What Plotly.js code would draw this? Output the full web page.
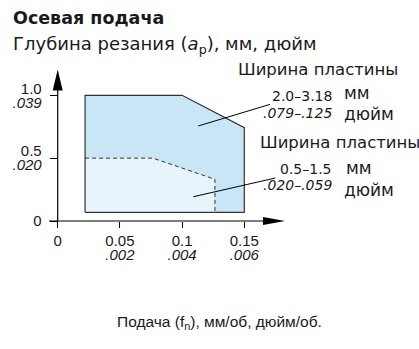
<!DOCTYPE html>
<html>
<head>
<meta charset="utf-8">
<script src="https://cdn.plot.ly/plotly-3.0.1.min.js"></script>
<style>html,body{margin:0;padding:0;background:#fff;}#chart{width:419px;height:349px;}</style>
</head>
<body>
<div id="chart"></div>
<script>
// ---- data ----
const outerFeed  = [0.022, 0.022, 0.100, 0.150, 0.150, 0.022];
const outerDepth = [0.069, 1.000, 1.000, 0.742, 0.069, 0.069];
const innerFeed  = [0.022, 0.022, 0.0766, 0.1264, 0.1264, 0.022];
const innerDepth = [0.069, 0.500, 0.500, 0.332, 0.069, 0.069];
const xTickVals = [0, 0.05, 0.1, 0.15];
const xTickMm   = ["0", "0.05", "0.1", "0.15"];
const xTickInch = ["", ".002", ".004", ".006"];
const yTickVals = [0, 0.5, 1.0];
const yTickMm   = ["0", "0.5", "1.0"];
const yTickInch = ["", ".020", ".039"];

// ---- layout helpers ----
const W = 419, H = 349;
const X0 = 57.7, XS = 1244;   // pixel of x=0, pixels per unit
const Y0 = 221,  YS = 125.7;  // pixel of y=0, pixels per unit
const xRange = [-X0 / XS, (W - X0) / XS];
const yRange = [-(H - Y0) / YS, Y0 / YS];
const P = px => px / W;
const Q = py => 1 - py / H;
const FONT = "Liberation Sans, Arial, sans-serif";
const WIDE = "DejaVu Sans, sans-serif";
const TXT = "#1a1a1a";

const traces = [
  {x: outerFeed, y: outerDepth, mode: "lines", fill: "toself", fillcolor: "#c8e6f6",
   line: {width: 0}, hoverinfo: "skip", showlegend: false},
  {x: innerFeed, y: innerDepth, mode: "lines", fill: "toself", fillcolor: "#e8f4fb",
   line: {width: 0}, hoverinfo: "skip", showlegend: false},
  {x: innerFeed.slice(1, 5), y: innerDepth.slice(1, 5), mode: "lines",
   line: {color: "#333", width: 1, dash: "4px,3px"}, hoverinfo: "skip", showlegend: false},
  {x: outerFeed, y: outerDepth, mode: "lines",
   line: {color: "#333", width: 1.2}, hoverinfo: "skip", showlegend: false},
  {x: [null], y: [null], xaxis: "x2", yaxis: "y2", showlegend: false, hoverinfo: "skip"},
  {x: [null], y: [null], xaxis: "x2", yaxis: "y3", showlegend: false, hoverinfo: "skip"}
];

const baseX = {range: xRange, anchor: "free", position: Q(Y0), showgrid: false, zeroline: false,
  showline: false, tickmode: "array", ticks: "outside", ticklen: 6,
  tickcolor: "#000", tickwidth: 1, tickfont: {family: FONT, size: 15, color: TXT}, fixedrange: true};
const baseY = {range: yRange, anchor: "free", position: P(X0), showgrid: false, zeroline: false,
  showline: false, tickmode: "array", ticks: "outside", ticklen: 8, ticklabelstandoff: 5,
  tickcolor: "#000", tickwidth: 1, tickfont: {family: FONT, size: 15, color: TXT}, fixedrange: true};
const italic = {family: FONT, size: 15, color: TXT, style: "italic"};

function ann(text, x, y, xanchor, size, family) {
  return {text: text, x: P(x), y: Q(y), xref: "paper", yref: "paper",
    xanchor: xanchor, yanchor: "middle", showarrow: false,
    font: {family: family || FONT, size: size, color: TXT}};
}

const layout = {
  width: W, height: H,
  margin: {l: 0, r: 0, t: 0, b: 0, pad: 0},
  paper_bgcolor: "#fff", plot_bgcolor: "rgba(0,0,0,0)",
  xaxis: Object.assign({}, baseX, {tickvals: xTickVals, ticktext: xTickMm}),
  xaxis2: Object.assign({}, baseX, {overlaying: "x", tickvals: xTickVals.slice(1),
    ticktext: xTickInch.slice(1), tickfont: italic, tickcolor: "rgba(0,0,0,0)", ticklabelstandoff: 14}),
  yaxis: Object.assign({}, baseY, {tickvals: yTickVals.slice(1), ticktext: yTickMm.slice(1),
    ticklabelshift: -7}),
  yaxis2: Object.assign({}, baseY, {overlaying: "y", tickvals: yTickVals.slice(1),
    ticktext: yTickInch.slice(1), tickfont: italic, tickcolor: "rgba(0,0,0,0)", ticklabelshift: 7}),
  yaxis3: Object.assign({}, baseY, {overlaying: "y", tickvals: yTickVals.slice(0, 1),
    ticktext: yTickMm.slice(0, 1)}),
  shapes: [
    {type: "line", xref: "x", yref: "y", x0: (49 - X0) / XS, x1: (264 - X0) / XS, y0: 0, y1: 0,
     line: {color: "#000", width: 1.2}},
    {type: "line", xref: "x", yref: "y", x0: 0, x1: 0, y0: 0, y1: (Y0 - 90) / YS,
     line: {color: "#000", width: 1.2}},
    {type: "path", xref: "x", yref: "y", xsizemode: "pixel", ysizemode: "pixel",
     xanchor: (285 - X0) / XS, yanchor: 0, path: "M0,0 L-22,4 L-22,-4 Z",
     fillcolor: "#000", line: {width: 0}},
    {type: "path", xref: "x", yref: "y", xsizemode: "pixel", ysizemode: "pixel",
     xanchor: 0, yanchor: (Y0 - 69.5) / YS, path: "M0,0 L-5,-21 L5,-21 Z",
     fillcolor: "#000", line: {width: 0}},
    {type: "line", xref: "x", yref: "y", x0: 0.113, y0: 0.756, x1: 0.1707, y1: 0.928,
     line: {color: "#000", width: 1}},
    {type: "line", xref: "x", yref: "y", x0: 0.109, y0: 0.193, x1: 0.175, y1: 0.342,
     line: {color: "#000", width: 1}}
  ],
  annotations: [
    ann("<b>Осевая подача</b>", 11, 18, "left", 17.5, WIDE),
    ann("Глубина резания (<i>a</i><sub>p</sub>), мм, дюйм", 11, 45, "left", 18, WIDE),
    ann("Ширина пластины", 236, 69, "left", 16.5, WIDE),
    ann("2.0–3.18", 334, 96, "right", 14, WIDE),
    ann("<i>.079–.125</i>", 334, 113, "right", 14, WIDE),
    ann("мм", 342, 93, "left", 17, WIDE),
    ann("дюйм", 342, 114, "left", 17, WIDE),
    ann("Ширина пластины", 258, 142, "left", 16.5, WIDE),
    ann("0.5–1.5", 334, 169, "right", 14, WIDE),
    ann("<i>.020–.059</i>", 334, 185, "right", 14, WIDE),
    ann("мм", 344, 168, "left", 17, WIDE),
    ann("дюйм", 342, 190, "left", 17, WIDE),
    ann("Подача (f<sub>n</sub>), мм/об, дюйм/об.", 219.5, 322, "center", 15.5)
  ]
};

Plotly.newPlot("chart", traces, layout, {displayModeBar: false, staticPlot: true});
</script>
</body>
</html>
